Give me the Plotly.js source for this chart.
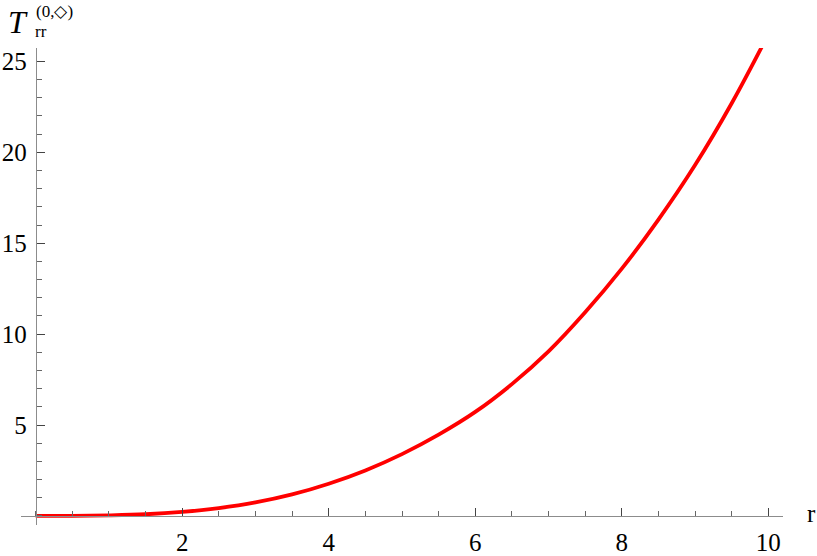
<!DOCTYPE html>
<html>
<head>
<meta charset="utf-8">
<script src="https://cdn.plot.ly/plotly-3.0.1.min.js"></script>
<style>html,body{margin:0;padding:0;background:#fff;}#chart{width:817px;height:556px;}</style>
</head>
<body>
<div id="chart"></div>
<script>
// Data
const rValues = [0, 0.5, 1, 1.5, 2, 2.5, 3, 3.5, 4, 4.5, 5, 5.5, 6, 6.5, 7, 7.5, 8, 8.5, 9, 9.5, 10];
const tValues = [0, 0.003, 0.03, 0.09, 0.22, 0.43, 0.74, 1.18, 1.77, 2.50, 3.40, 4.47, 5.72, 7.25, 9.05, 11.2, 13.6, 16.3, 19.3, 22.7, 26.5];
const xTickVals = [2, 4, 6, 8, 10];
const xTickText = ["2", "4", "6", "8", "10"];
const yTickVals = [5, 10, 15, 20, 25];
const yTickText = ["5", "10", "15", "20", "25"];

const xRange = [-0.2, 10.2];
const yRange = [-0.5, 25.74];

const font = "'Liberation Serif', 'Times New Roman', serif";

const trace = {
  x: rValues, y: tValues, type: "scatter", mode: "lines",
  line: {color: "#ff0000", width: 3.8, shape: "spline", smoothing: 1},
  hoverinfo: "skip"
};

const layout = {
  width: 817, height: 556,
  margin: {l: 21, r: 34, t: 48, b: 31},
  paper_bgcolor: "#fff", plot_bgcolor: "#fff",
  showlegend: false,
  font: {family: font, size: 25, color: "#000"},
  xaxis: {
    range: xRange, showgrid: false, zeroline: false,
    showline: true, linecolor: "#8c8c8c", linewidth: 1,
    anchor: "free", position: (0 - yRange[0]) / (yRange[1] - yRange[0]),
    tickmode: "array", tickvals: xTickVals, ticktext: xTickText,
    ticks: "inside", ticklen: 8, tickcolor: "#444", tickwidth: 1,
    ticklabelstandoff: 4,
    minor: {dtick: 0.5, tick0: 0, ticks: "inside", ticklen: 5, tickcolor: "#666", tickwidth: 1, showgrid: false},
    tickfont: {family: font, size: 25, color: "#000"}
  },
  yaxis: {
    range: yRange, showgrid: false, zeroline: false,
    showline: true, linecolor: "#8c8c8c", linewidth: 1,
    anchor: "free", position: (0 - xRange[0]) / (xRange[1] - xRange[0]),
    tickmode: "array", tickvals: yTickVals, ticktext: yTickText,
    ticks: "inside", ticklen: 8, tickcolor: "#444", tickwidth: 1,
    ticklabelstandoff: 4,
    minor: {dtick: 1, tick0: 0, ticks: "inside", ticklen: 5, tickcolor: "#666", tickwidth: 1, showgrid: false},
    tickfont: {family: font, size: 25, color: "#000"}
  },
  annotations: [
    {xref: "paper", yref: "paper", x: 1.0, y: (0 - yRange[0]) / (yRange[1] - yRange[0]),
     xanchor: "left", yanchor: "middle", xshift: 22, yshift: 2, showarrow: false,
     text: "r", font: {family: font, size: 25, color: "#000"}},
    {xref: "paper", yref: "paper", x: 0, y: 1, xanchor: "left", yanchor: "bottom",
     xshift: -15, yshift: 6, showarrow: false,
     text: "<i>T</i>", font: {family: font, size: 32, color: "#000"}},
    {xref: "paper", yref: "paper", x: 0, y: 1, xanchor: "left", yanchor: "bottom",
     xshift: 12, yshift: 5, showarrow: false,
     text: "rr", font: {family: font, size: 17, color: "#000"}},
    {xref: "paper", yref: "paper", x: 0, y: 1, xanchor: "left", yanchor: "bottom",
     xshift: 13, yshift: 25, showarrow: false,
     text: "(0,◇)", font: {family: font, size: 17, color: "#000"}}
  ]
};

Plotly.newPlot("chart", [trace], layout, {displayModeBar: false, staticPlot: true});
</script>
</body>
</html>
